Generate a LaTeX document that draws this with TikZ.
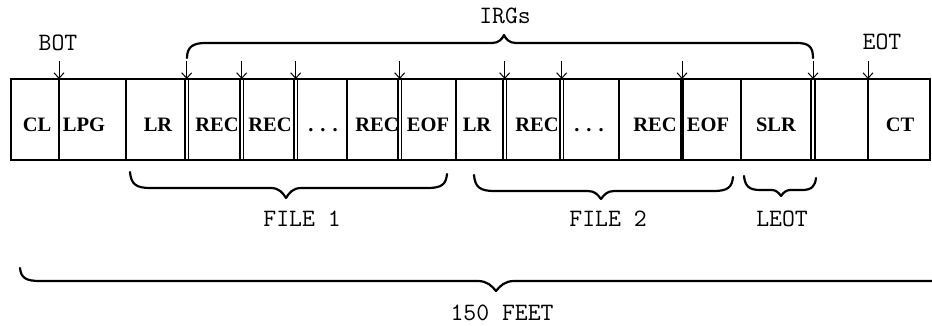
\documentclass[tikz,border=0pt]{standalone}
\usepackage{fontspec}
\newfontfamily\boxfont{Liberation Serif}
\usetikzlibrary{arrows.meta}
\begin{document}
\begin{tikzpicture}[x=1pt,y=-1pt,
  tapeline/.style={line width=1.4pt},
  gapline/.style={line width=1.1pt},
  thickgap/.style={line width=4pt},
  lbl/.style={font=\boxfont\bfseries\fontsize{20.5}{21}\selectfont, inner sep=0pt, anchor=base},
  outlbl/.style={font=\ttfamily\fontsize{25}{25}\selectfont, inner sep=0pt, anchor=base},
  bracepath/.style={line width=2.2pt, line cap=round, line join=round},
  ptr/.style={-{Straight Barb[length=5.5pt,width=10pt,line width=1pt]}, line width=1pt}]
\useasboundingbox (0,0) rectangle (932,325);

% tape outline
\draw[tapeline] (11,79) rectangle (930,160);

% single dividers
\foreach \x in {59,126,347,456,619,741,868}
  \draw[tapeline] (\x,79) -- (\x,160);
% inter-record gaps (double lines)
\foreach \a/\b in {185/188.5,240/243.5,294/297.5,398/401.5,503/506.5,560/563.5,811/815}{
  \draw[gapline] (\a,79) -- (\a,160);
  \draw[gapline] (\b,79) -- (\b,160);
}
\draw[thickgap] (682,79) -- (682,160);

% arrows onto the tape
\foreach \n/\x in {bot/59,g1/186.7,g2/241.7,g3/295.7,g4/399.7,g5/504.7,g6/561.7,g7/682,g8/813,eot/868}{
  \coordinate (\n t) at (\x,61);
  \coordinate (\n h) at (\x,79);
  \draw[ptr] (\n t) -- (\n h);
}

% labels in the tape
\node[lbl] (cl)   at (37,131)  {CL};
\node[lbl] (lpg)  at (84,131)  {LPG};
\node[lbl] (lr1)  at (158,131) {LR};
\node[lbl] (rec1) at (217,131) {REC};
\node[lbl] (rec2) at (270,131) {REC};
\node[lbl] (dot1) at (323,131) {.\hspace{7pt}.\hspace{7pt}.};
\node[lbl] (rec3) at (377,131) {REC};
\node[lbl] (eof1) at (428,131) {EOF};
\node[lbl] (lr2)  at (477,131) {LR};
\node[lbl] (rec4) at (537,131) {REC};
\node[lbl] (dot2) at (589,131) {.\hspace{7pt}.\hspace{7pt}.};
\node[lbl] (rec5) at (655,131) {REC};
\node[lbl] (eof2) at (708,131) {EOF};
\node[lbl] (slr)  at (776,131) {SLR};
\node[lbl] (ct)   at (900,131) {CT};

% labels outside
\node[outlbl] (botl)  at (58,50)   {BOT};
\node[outlbl] (eotl)  at (882,49)  {EOT};
\node[outlbl] (irgl)  at (505,23)  {IRGs};
\node[outlbl] (f1l)   at (302,226) {FILE 1};
\node[outlbl] (f2l)   at (608,226) {FILE 2};
\node[outlbl] (leotl) at (782,226) {LEOT};
\node[outlbl] (feetl) at (502,320) {150 FEET};

% IRG brace (above)
\draw[bracepath] (187,58) .. controls (187,47) and (193,43) .. (205,43) -- (492,43)
  .. controls (499,43) and (502,39) .. (504,35)
  .. controls (506,39) and (509,43) .. (516,43) -- (797,43)
  .. controls (809,43) and (813,47) .. (813,58);

% FILE 1 brace
\draw[bracepath] (130,172) .. controls (131,184) and (136,188) .. (150,188) -- (271,188)
  .. controls (279,188) and (283,193) .. (286,198)
  .. controls (289,193) and (293,188) .. (301,188) -- (428,188)
  .. controls (442,188) and (446,184) .. (447,174);

% FILE 2 brace
\draw[bracepath] (474,175) .. controls (475,187) and (480,191) .. (494,191) -- (588,191)
  .. controls (595,191) and (598,195) .. (601,199)
  .. controls (604,195) and (607,191) .. (614,191) -- (714,191)
  .. controls (728,191) and (732,187) .. (733,177);

% LEOT brace
\draw[bracepath] (744,176) .. controls (745,186) and (749,190) .. (760,190) -- (772,190)
  .. controls (776,190) and (779,193) .. (781,196)
  .. controls (783,193) and (786,190) .. (790,190) -- (802,190)
  .. controls (812,190) and (815,186) .. (816,178);

% 150 FEET brace (runs off the right edge)
\draw[bracepath] (20,268) .. controls (21,278) and (26,281) .. (40,281) -- (478,281)
  .. controls (487,281) and (492,286) .. (496,291)
  .. controls (500,286) and (505,281) .. (514,281) -- (940,281);
\end{tikzpicture}
\end{document}
